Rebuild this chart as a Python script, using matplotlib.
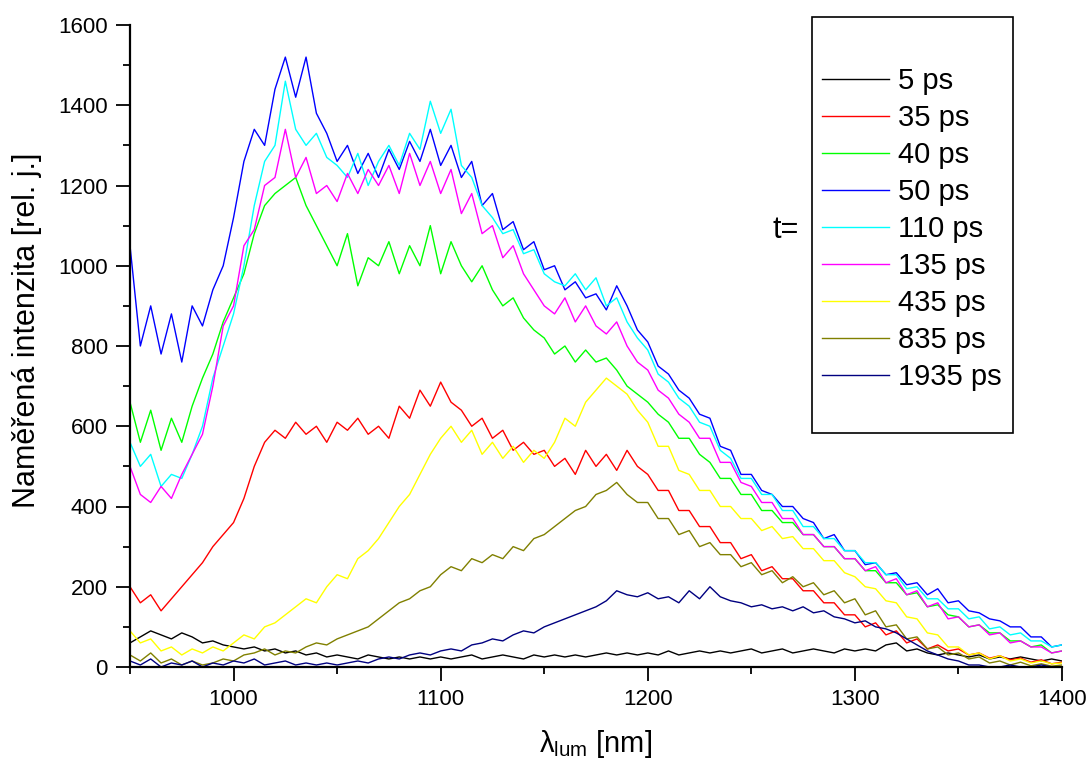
import numpy as np
import matplotlib
matplotlib.use('Agg')
import matplotlib.pyplot as plt
from matplotlib.patches import Rectangle

plt.rcParams['font.family'] = ['Liberation Sans', 'DejaVu Sans']
plt.rcParams['mathtext.fontset'] = 'custom'
plt.rcParams['mathtext.rm'] = 'Liberation Sans'

# vlnova delka [nm], krok 5 nm
wavelength = np.arange(950, 1401, 5)

int_5 = [60, 75, 90, 80, 70, 85, 75, 60, 65, 55,
         50, 45, 50, 40, 45, 35, 40, 30, 35, 25,
         30, 25, 20, 30, 25, 20, 25, 20, 25, 20,
         25, 20, 25, 30, 20, 25, 30, 25, 20, 30,
         25, 30, 25, 30, 25, 30, 35, 30, 35, 30,
         35, 30, 40, 30, 35, 40, 35, 40, 35, 40,
         45, 35, 40, 45, 35, 40, 45, 40, 35, 45,
         40, 45, 40, 55, 60, 40, 45, 35, 30, 35,
         30, 25, 30, 20, 25, 20, 25, 20, 15, 20,
         15]
int_35 = [200, 160, 180, 140, 170, 200, 230, 260, 300, 330,
          360, 420, 500, 560, 590, 570, 610, 580, 600, 560,
          610, 590, 620, 580, 600, 570, 650, 620, 690, 650,
          710, 660, 640, 600, 620, 570, 590, 540, 560, 530,
          540, 500, 520, 480, 540, 500, 530, 490, 540, 500,
          480, 440, 440, 390, 390, 350, 350, 310, 310, 270,
          280, 240, 250, 220, 220, 190, 190, 160, 160, 130,
          130, 100, 110, 80, 90, 60, 70, 45, 55, 40,
          45, 30, 35, 22, 28, 18, 22, 12, 18, 8,
          12]
int_40 = [660, 560, 640, 540, 620, 560, 650, 720, 780, 860,
          920, 980, 1080, 1150, 1180, 1200, 1220, 1150, 1100, 1050,
          1000, 1080, 950, 1020, 1000, 1060, 980, 1050, 1000, 1100,
          980, 1060, 1000, 960, 1000, 940, 900, 920, 870, 840,
          820, 780, 800, 760, 790, 760, 770, 740, 700, 680,
          660, 630, 610, 570, 570, 530, 510, 470, 470, 430,
          430, 390, 390, 360, 360, 330, 330, 300, 300, 270,
          270, 240, 240, 210, 210, 180, 185, 150, 155, 130,
          125, 100, 105, 85, 85, 65, 65, 50, 55, 35,
          40]
int_50 = [1050, 800, 900, 780, 880, 760, 900, 850, 940, 1000,
          1120, 1260, 1340, 1300, 1440, 1520, 1420, 1520, 1380, 1330,
          1260, 1300, 1230, 1280, 1220, 1290, 1240, 1310, 1260, 1340,
          1250, 1300, 1220, 1260, 1150, 1180, 1090, 1110, 1040, 1060,
          990, 1000, 940, 960, 920, 930, 890, 950, 900, 840,
          810, 750, 730, 690, 670, 630, 620, 550, 540, 480,
          480, 440, 430, 400, 400, 370, 360, 320, 330, 290,
          290, 255, 260, 230, 235, 205, 210, 180, 195, 160,
          165, 140, 135, 120, 115, 100, 100, 75, 75, 50,
          55]
int_110 = [560, 500, 530, 450, 480, 470, 530, 600, 720, 800,
           880, 1000, 1150, 1260, 1300, 1460, 1340, 1300, 1330, 1270,
           1250, 1220, 1280, 1200, 1260, 1300, 1250, 1330, 1290, 1410,
           1330, 1390, 1250, 1220, 1150, 1120, 1080, 1090, 1030, 1040,
           980, 960, 950, 980, 940, 970, 900, 920, 860, 820,
           790, 730, 710, 670, 650, 610, 600, 540, 520, 470,
           470, 430, 430, 390, 390, 350, 350, 320, 320, 290,
           290, 260, 260, 230, 230, 195, 200, 170, 170, 145,
           145, 120, 125, 95, 100, 80, 85, 65, 65, 50,
           55]
int_135 = [500, 430, 410, 450, 420, 480, 530, 580, 700, 850,
           900, 1050, 1090, 1200, 1220, 1340, 1220, 1270, 1180, 1200,
           1160, 1230, 1180, 1240, 1200, 1250, 1180, 1280, 1200, 1260,
           1180, 1240, 1130, 1180, 1080, 1100, 1020, 1050, 980, 940,
           900, 880, 920, 860, 900, 850, 830, 860, 800, 760,
           740, 690, 670, 630, 610, 570, 570, 510, 510, 460,
           450, 410, 410, 370, 370, 330, 330, 300, 300, 270,
           270, 240, 250, 210, 220, 180, 190, 150, 160, 120,
           125, 100, 105, 80, 85, 60, 65, 50, 50, 35,
           40]
int_435 = [90, 60, 70, 40, 50, 30, 45, 35, 50, 40,
           60, 80, 70, 100, 110, 130, 150, 170, 160, 200,
           230, 220, 270, 290, 320, 360, 400, 430, 480, 530,
           570, 600, 560, 590, 530, 560, 520, 550, 510, 540,
           520, 560, 620, 600, 660, 690, 720, 700, 680, 640,
           610, 550, 550, 490, 480, 440, 440, 400, 400, 370,
           370, 340, 350, 320, 325, 295, 295, 265, 265, 235,
           225, 200, 195, 165, 160, 125, 120, 85, 80, 50,
           50, 30, 35, 20, 28, 15, 20, 10, 15, 8,
           10]
int_835 = [30, 15, 35, 10, 20, 5, 15, 5, 10, 20,
           15, 30, 35, 45, 30, 40, 35, 50, 60, 55,
           70, 80, 90, 100, 120, 140, 160, 170, 190, 200,
           230, 250, 240, 270, 260, 280, 270, 300, 290, 320,
           330, 350, 370, 390, 400, 430, 440, 460, 430, 410,
           410, 370, 370, 330, 340, 300, 310, 280, 280, 250,
           260, 230, 240, 210, 225, 200, 210, 180, 190, 160,
           170, 130, 140, 100, 105, 70, 75, 45, 50, 30,
           35, 20, 25, 10, 15, 5, 12, 3, 8, 2,
           5]
int_1935 = [15, 5, 20, 0, 10, 5, 15, 0, 10, 5,
            15, 10, 20, 5, 10, 15, 5, 10, 5, 10,
            5, 10, 15, 10, 20, 25, 20, 30, 35, 30,
            40, 45, 40, 55, 60, 70, 65, 80, 90, 85,
            100, 110, 120, 130, 140, 150, 165, 190, 180, 175,
            185, 170, 175, 160, 190, 170, 200, 175, 165, 160,
            150, 155, 145, 150, 140, 150, 135, 140, 125, 120,
            110, 115, 100, 95, 85, 70, 55, 40, 30, 20,
            15, 5, 5, 0, 0, 5, 0, 0, 5, 0,
            0]

labels = ['5 ps', '35 ps', '40 ps', '50 ps', '110 ps', '135 ps',
          '435 ps', '835 ps', '1935 ps']
series = [int_5, int_35, int_40, int_50, int_110, int_135,
          int_435, int_835, int_1935]
colors = ['#000000', '#FF0000', '#00FF00', '#0000FF', '#00FFFF',
          '#FF00FF', '#FFFF00', '#808000', '#000080']

W, H = 1091, 767
fig = plt.figure(figsize=(W / 100, H / 100), dpi=100, facecolor='w')
ax = fig.add_axes([130 / W, 1 - 667 / H, 932 / W, 642 / H])

for y, c, lab in zip(series, colors, labels):
    ax.plot(wavelength, y, color=c, lw=1.0, label=lab)

ax.set_xlim(950, 1400)
ax.set_ylim(0, 1600)
ax.set_xticks([1000, 1100, 1200, 1300, 1400])
ax.set_xticks(np.arange(950, 1401, 50), minor=True)
ax.set_yticks(np.arange(0, 1601, 200))
ax.set_yticks(np.arange(0, 1601, 100), minor=True)

ax.spines['top'].set_visible(False)
ax.spines['right'].set_visible(False)
ax.spines['left'].set_linewidth(1.6)
ax.spines['bottom'].set_linewidth(1.6)
ax.tick_params(which='major', direction='out', length=10, width=1.3,
               labelsize=16, pad=6)
ax.tick_params(which='minor', direction='out', length=5, width=1.3)

ax.set_xlabel('λ$_{\\mathrm{lum}}$ [nm]', fontsize=21, labelpad=13)
fig.text(27 / W, 1 - 330 / H, 'Naměřená intenzita [rel. j.]', rotation=90,
         ha='center', va='center', fontsize=22)

# legenda bez ramecku + vlastni ramecek
leg = ax.legend(frameon=False, loc='upper left',
                bbox_to_anchor=(822 / W, 1 - 67 / H),
                bbox_transform=fig.transFigure, fontsize=21,
                handlelength=2.3, handletextpad=0.3, labelspacing=0.31,
                borderpad=0, borderaxespad=0)
fig.patches.append(Rectangle((812 / W, 1 - 433 / H), 201 / W, 416 / H,
                             transform=fig.transFigure, fill=False,
                             edgecolor='k', lw=1.2))
fig.text(786 / W, 1 - 230 / H, 't=', ha='center', va='center', fontsize=22)

fig.savefig('out.png', dpi=100)
